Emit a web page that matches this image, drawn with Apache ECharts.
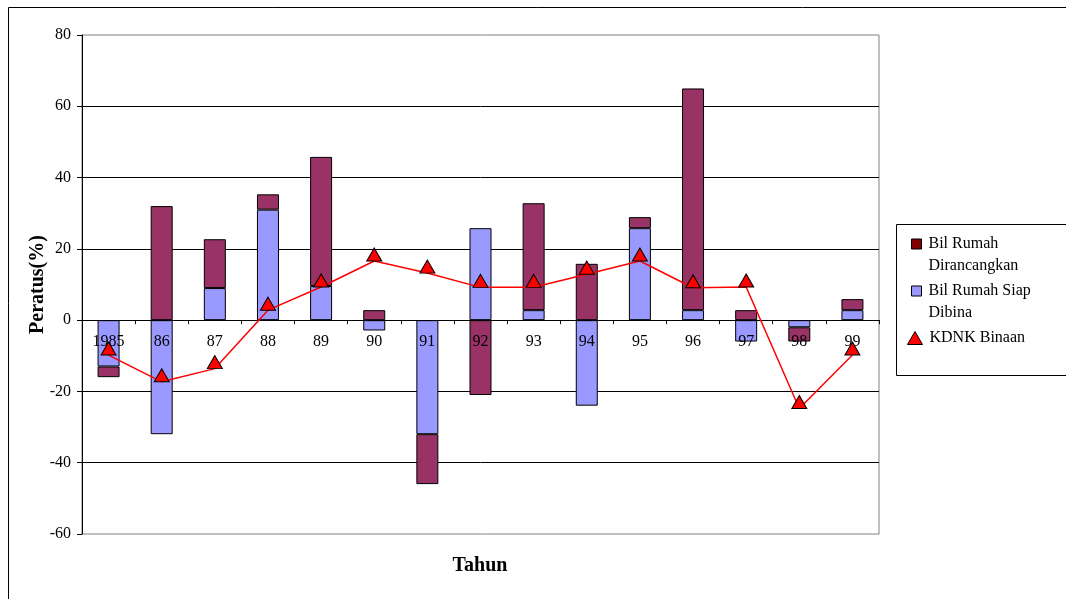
<!DOCTYPE html>
<html>
<head>
<meta charset="utf-8">
<script src="https://cdn.jsdelivr.net/npm/echarts@6/dist/echarts.min.js"></script>
<style>
  html, body { margin: 0; padding: 0; background: #fff; }
  #chart { width: 1066px; height: 599px; }
</style>
</head>
<body>
<div id="chart"></div>
<script>
// Year categories on the horizontal axis
const years = ['1985', '86', '87', '88', '89', '90', '91', '92', '93', '94', '95', '96', '97', '98', '99'];

// Percentage change, houses completed
const siapDibina = [-13, -32, 9, 31, 9.6, -2.9, -32, 25.8, 2.8, -24, 25.8, 2.8, -6, -2, 2.8];

// Percentage change, houses planned
const dirancangkan = [-3, 32, 13.7, 4.3, 36.2, 2.8, -14, -21, 30, 15.8, 3.1, 62.2, 2.8, -4, 3.1];

// Construction GDP growth (%)
const kdnkBinaan = [-9.8, -17.3, -13.6, 2.8, 9.3, 16.6, 13.2, 9.2, 9.2, 12.9, 16.6, 9.1, 9.3, -24.8, -9.8];

// Value axis range
const yMin = -60;
const yMax = 80;
const yStep = 20;

const serif = '"Liberation Serif", "Times New Roman", serif';

// Plot area in pixels
const gridBox = { left: 82, right: 187, top: 35, bottom: 65 };
const plotHeight = 599 - gridBox.top - gridBox.bottom;
// Lift the category axis from the bottom edge up to the zero line
const zeroOffset = -plotHeight * (0 - yMin) / (yMax - yMin);

const chart = echarts.init(document.getElementById('chart'), null, { renderer: 'canvas' });

const legendText = { fontFamily: serif, fontSize: 16, color: '#000', lineHeight: 22, padding: [0, 0, 0, 2] };

chart.setOption({
  animation: false,
  backgroundColor: '#fff',
  grid: Object.assign({
    show: true, borderColor: '#808080', borderWidth: 1, backgroundColor: 'transparent'
  }, gridBox),
  xAxis: {
    type: 'category',
    data: years,
    z: 3,
    position: 'bottom',
    offset: zeroOffset,
    axisLine: { onZero: false, lineStyle: { color: '#000', width: 1 } },
    axisTick: { show: true, length: 4, lineStyle: { color: '#000' } },
    axisLabel: { interval: 0, margin: 14, fontFamily: serif, fontSize: 16, color: '#000' },
    splitLine: { show: false }
  },
  yAxis: {
    type: 'value',
    min: yMin, max: yMax, interval: yStep,
    name: 'Peratus(%)',
    nameLocation: 'middle',
    nameGap: 34,
    nameMoveOverlap: false,
    nameTextStyle: { fontFamily: serif, fontSize: 20, fontWeight: 'bold', color: '#000' },
    axisLine: { show: true, lineStyle: { color: '#000', width: 1 } },
    axisTick: { show: true, length: 5, lineStyle: { color: '#000' } },
    axisLabel: { margin: 11, fontFamily: serif, fontSize: 16, color: '#000' },
    splitLine: { show: true, showMinLine: false, showMaxLine: false, lineStyle: { color: '#000', width: 1 } }
  },
  legend: [
    {
      orient: 'vertical', left: 911, top: 211, padding: 0,
      itemWidth: 10, itemHeight: 10, selectedMode: false, icon: 'rect',
      data: [{ name: 'Bil Rumah Dirancangkan', itemStyle: { color: '#800000', borderColor: '#000', borderWidth: 1 } }],
      formatter: () => ' \nBil Rumah\nDirancangkan',
      textStyle: legendText
    },
    {
      orient: 'vertical', left: 911, top: 258, padding: 0,
      itemWidth: 10, itemHeight: 10, selectedMode: false, icon: 'rect',
      data: [{ name: 'Bil Rumah Siap Dibina', itemStyle: { color: '#9999FF', borderColor: '#000', borderWidth: 1 } }],
      formatter: () => ' \nBil Rumah Siap\nDibina',
      textStyle: legendText
    },
    {
      orient: 'vertical', left: 907, top: 327, padding: 0,
      itemWidth: 15, itemHeight: 13, selectedMode: false,
      icon: 'triangle',
      data: [{ name: 'KDNK Binaan', itemStyle: { color: '#FF0000', borderColor: '#000', borderWidth: 1 } }],
      textStyle: legendText
    }
  ],
  graphic: [
    {
      type: 'rect', silent: true, z: -1,
      shape: { x: 8.5, y: 7.5, width: 1200, height: 800 },
      style: { fill: 'none', stroke: '#000', lineWidth: 1 }
    },
    {
      type: 'rect', silent: true,
      shape: { x: 896.5, y: 224.5, width: 300, height: 151 },
      style: { fill: '#fff', stroke: '#000', lineWidth: 1 }, z: -1
    },
    {
      type: 'text', silent: true,
      style: {
        x: 480, y: 566, text: 'Tahun', textAlign: 'center', textVerticalAlign: 'middle',
        font: 'bold 20px ' + serif, fill: '#000'
      }
    }
  ],
  series: [
    {
      name: 'Bil Rumah Siap Dibina',
      type: 'bar', stack: 'rumah', barWidth: 22,
      data: siapDibina,
      itemStyle: { color: '#9999FF', borderColor: '#000', borderWidth: 1 }
    },
    {
      name: 'Bil Rumah Dirancangkan',
      type: 'bar', stack: 'rumah', barWidth: 22,
      data: dirancangkan,
      itemStyle: { color: '#993366', borderColor: '#000', borderWidth: 1 }
    },
    {
      name: 'KDNK Binaan',
      type: 'line', z: 5,
      data: kdnkBinaan,
      symbol: 'triangle', symbolSize: [15, 13], symbolOffset: [0, '-50%'],
      showAllSymbol: true,
      lineStyle: { color: '#FF0000', width: 1.5 },
      itemStyle: { color: '#FF0000', borderColor: '#000', borderWidth: 1 }
    }
  ]
});
</script>
</body>
</html>
